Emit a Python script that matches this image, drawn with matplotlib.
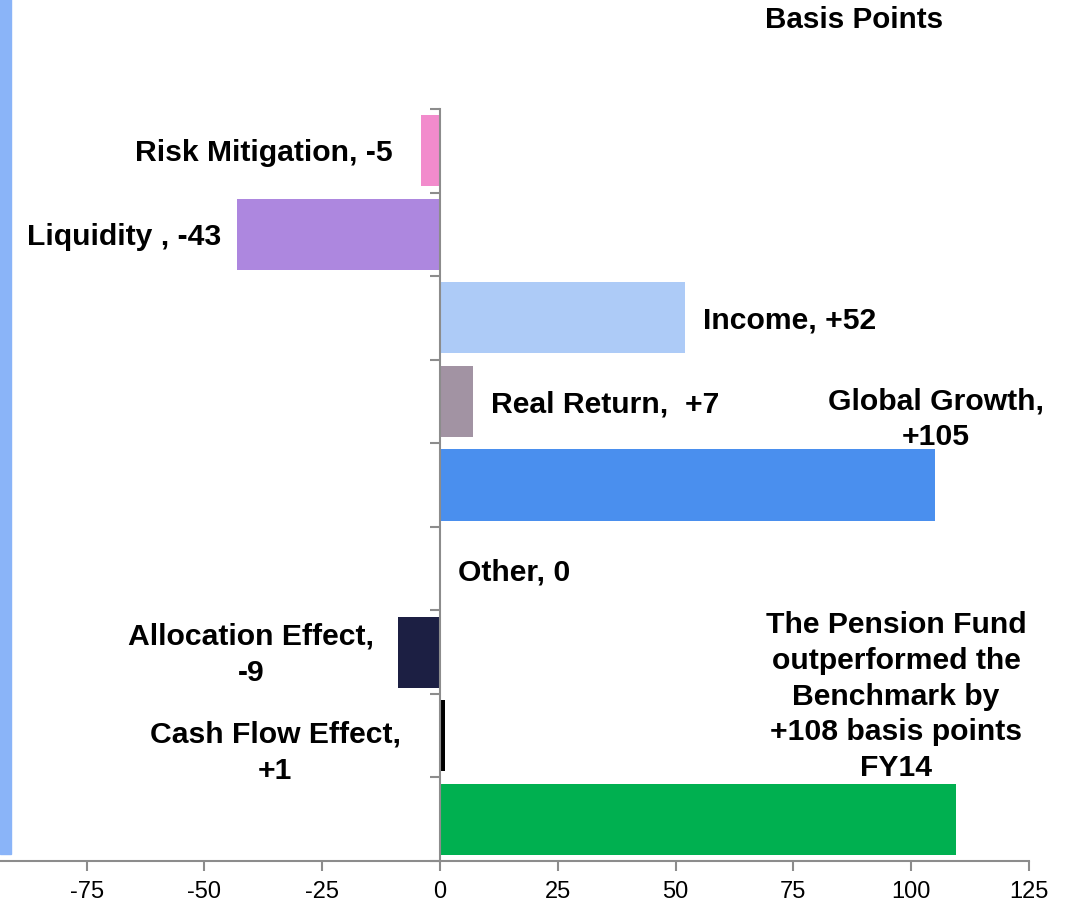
import matplotlib
matplotlib.use('Agg')
import matplotlib.pyplot as plt
from matplotlib.patches import Rectangle

plt.rcParams['font.family'] = ['Liberation Sans', 'DejaVu Sans']

# data, top to bottom
cats = ['Risk Mitigation', 'Liquidity', 'Income', 'Real Return', 'Global Growth',
        'Other', 'Allocation Effect', 'Cash Flow Effect', 'Total']
vals = [-4, -43, 52, 7, 105, 0, -9, 1, 109.5]
cols = ['#F28BCC', '#AD87DF', '#ADCBF7', '#A293A3', '#4A8FEE',
        '#FFFFFF', '#1C1F43', '#000000', '#00B050']
labels = ['Risk Mitigation, -5', 'Liquidity , -43', 'Income, +52', 'Real Return,  +7',
          'Global Growth,\n+105', 'Other, 0', 'Allocation Effect,\n-9',
          'Cash Flow Effect,\n+1',
          'The Pension Fund\noutperformed the\nBenchmark by\n+108 basis points\nFY14']
# label anchor (x in data units, y offset from bar) and alignment
lab_x = [-10, -46.5, 55.8, 10.8, 105.3, 3.8, -40.1, -35, 96.8]
lab_dy = [0.01, 0.02, 0.02, 0.03, -0.8, 0.03, 0.02, 0.19, -1.48]
lab_ha = ['right', 'right', 'left', 'left', 'center', 'left', 'center', 'center', 'center']
xticks = [-75, -50, -25, 0, 25, 50, 75, 100, 125]

fig = plt.figure(figsize=(10.66, 9.03), dpi=100)
ax = fig.add_axes([0.0, 0.0454, 0.9653, 0.8328])

pos = list(range(len(cats)))
ax.barh(pos, vals, height=0.85, color=cols)
for i in pos:
    ax.text(lab_x[i], i + lab_dy[i], labels[i], ha=lab_ha[i], va='center',
            fontsize=21.7, fontweight='bold', linespacing=1.36)

ax.set_xlim(-93.4, 125)
ax.set_ylim(8.5, -0.5)
ax.set_xticks(xticks)
ax.set_xticklabels([str(t) for t in xticks], fontsize=17)
ax.set_yticks([i - 0.5 for i in range(len(cats) + 1)])
ax.set_yticklabels([])
ax.spines['left'].set_position(('data', 0))
ax.spines['top'].set_visible(False)
ax.spines['right'].set_visible(False)
for s in ['left', 'bottom']:
    ax.spines[s].set_color('#8C8C8C')
    ax.spines[s].set_linewidth(1.5)
ax.tick_params(axis='both', direction='out', length=7, width=1.5, color='#8C8C8C')
ax.tick_params(axis='x', pad=7)

fig.text(854 / 1066, 1 - 20 / 903, 'Basis Points', ha='center', va='center',
         fontsize=21.3, fontweight='bold')
fig.patches.append(Rectangle((0, 1 - 855 / 903), 11 / 1066, 855 / 903,
                             transform=fig.transFigure, color='#8AB4F8', zorder=0))

fig.savefig('out.png', dpi=100)
